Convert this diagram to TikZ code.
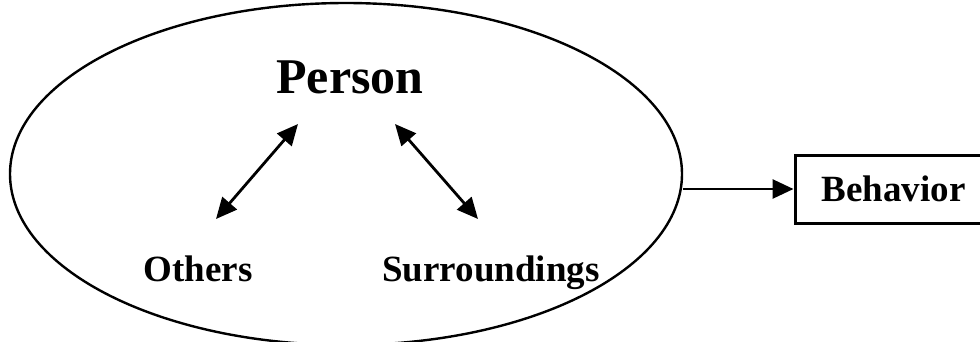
\documentclass[tikz,border=0pt]{standalone}
\usepackage{fontspec}
\setmainfont{Liberation Serif}
\usepackage{tikz}
\usetikzlibrary{shapes.geometric, arrows.meta, positioning, calc}

\begin{document}
\begin{tikzpicture}[
    x=1pt, y=-1pt,
    field/.style={ellipse, draw=black, line width=2.4pt, minimum width=672pt, minimum height=342pt, inner sep=0pt},
    big/.style={anchor=base, font=\fontsize{50}{58}\selectfont\bfseries},
    small/.style={anchor=base, font=\fontsize{37}{44}\selectfont\bfseries},
    outbox/.style={rectangle, draw=black, line width=3pt, minimum width=197pt, minimum height=68pt, font=\fontsize{37}{44}\selectfont\bfseries},
    arrow/.style={-{Triangle[length=21pt, width=19pt]}, line width=2.8pt},
    twoway/.style={{Triangle[length=21pt, width=19pt]}-{Triangle[length=21pt, width=19pt]}, line width=2.8pt}
]
    \clip (0,0) rectangle (980,341);
    \useasboundingbox (0,0) rectangle (980,341);

    \node (world) [field] at (346,174) {};
    \node (person) [big] at (350,93) {Person};
    \node (others) [small] at (198,281) {Others};
    \node (surr) [small] at (491,281) {Surroundings};
    \node (behavior) [outbox] at (893.5,189) {Behavior};

    \coordinate (o1) at (216,219);
    \coordinate (o2) at (298,124);
    \coordinate (s1) at (395,124);
    \coordinate (s2) at (478,219);

    \draw [twoway] (o1) -- (o2);
    \draw [twoway] (s1) -- (s2);
    \draw [arrow] (behavior.west -| world.east) -- (behavior.west);
\end{tikzpicture}
\end{document}
